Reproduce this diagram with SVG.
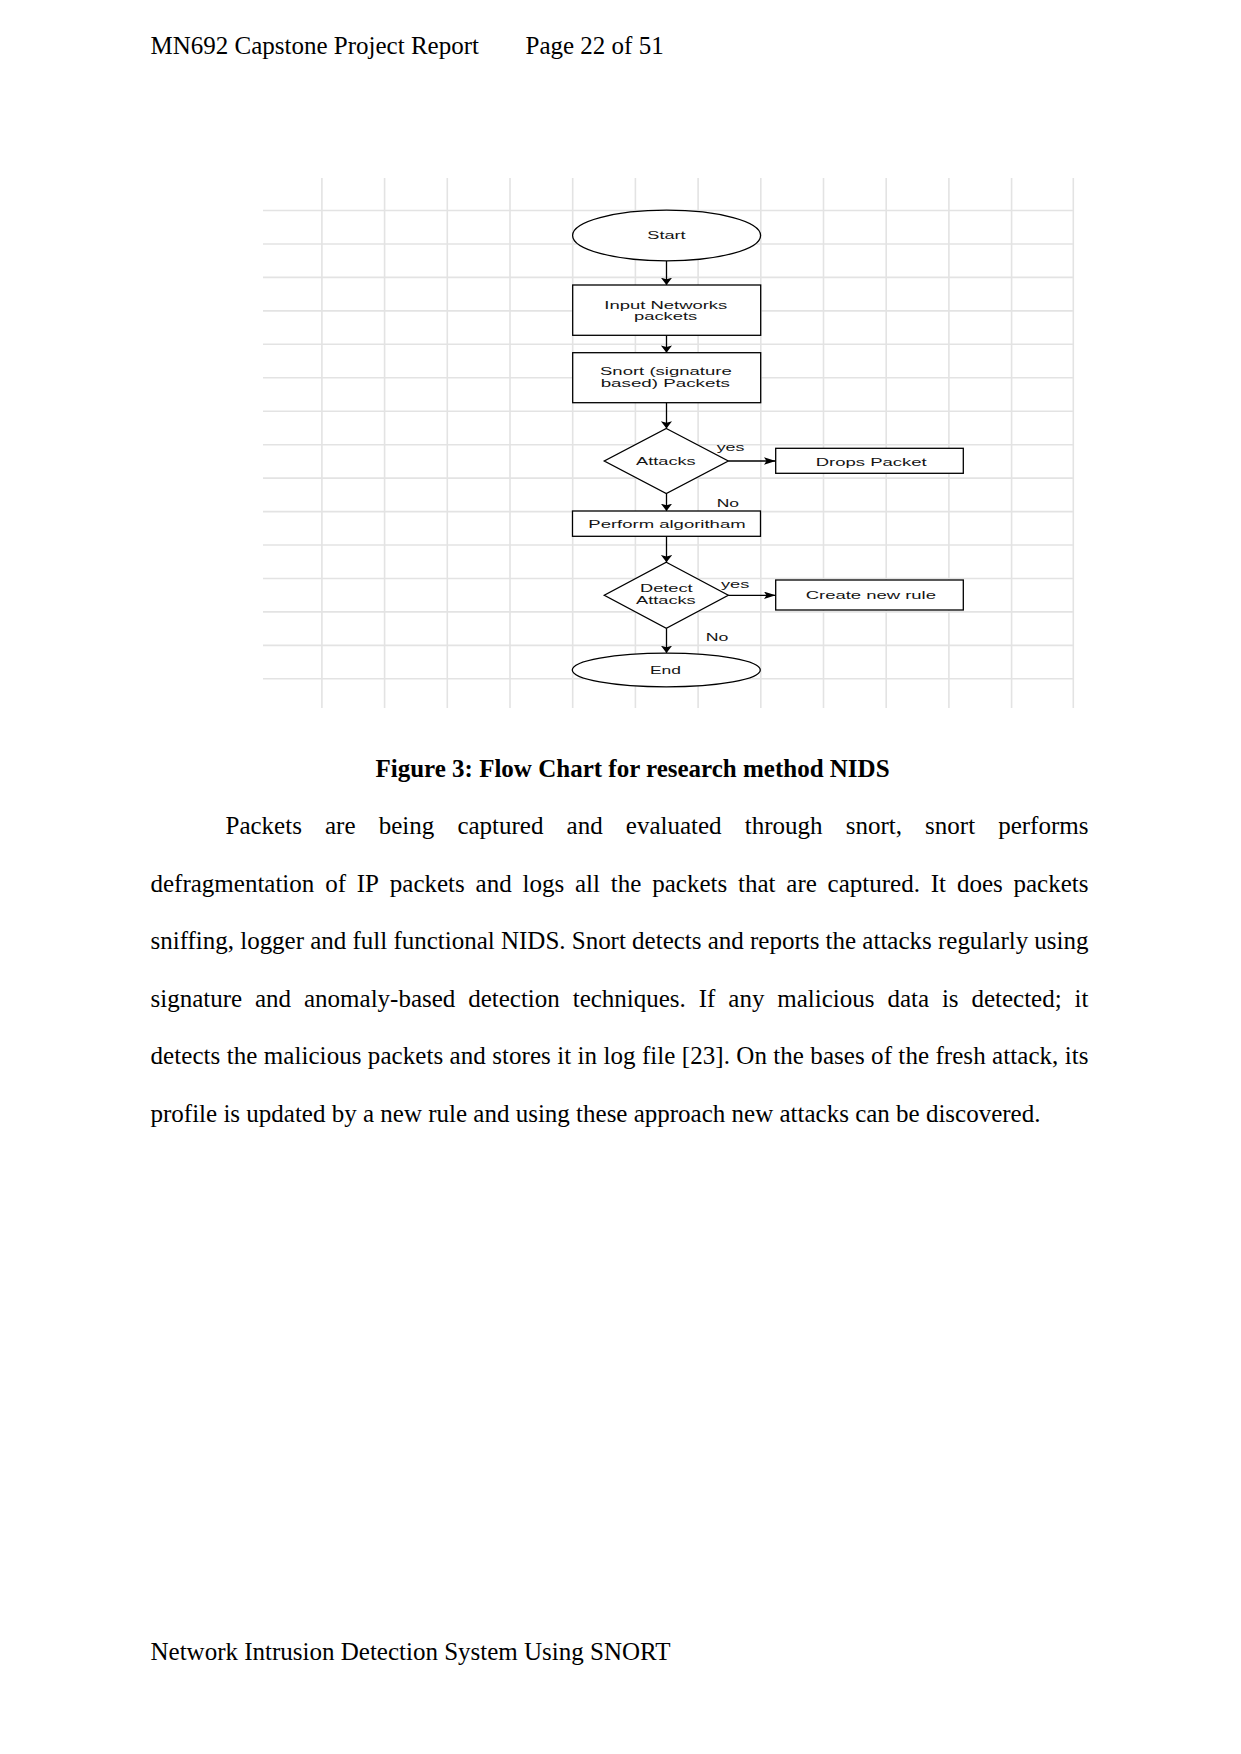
<svg xmlns="http://www.w3.org/2000/svg" width="1241" height="1754" viewBox="0 0 1241 1754">
<style>
.page{font-family:"Liberation Serif","Times New Roman",serif;font-size:25px;fill:#000}
.cap{font-family:"Liberation Serif","Times New Roman",serif;font-size:25px;font-weight:bold;fill:#000}
.grid line{stroke:#e3e3e3;stroke-width:1.6}
.shape{fill:#fff;stroke:#000;stroke-width:1.3}
.lbl{font-family:"Liberation Sans",Arial,sans-serif;font-size:10.5px;fill:#141414}
.conn{stroke:#000;stroke-width:1.3;fill:none}
</style>
<defs>
<marker id="ahV" markerUnits="userSpaceOnUse" markerWidth="9" markerHeight="12" refX="7.3" refY="5.6" orient="auto">
<path d="M0,0 L7.3,5.6 L0,11.2 L1.5,5.6 Z" fill="#000"/>
</marker>
<marker id="ahH" markerUnits="userSpaceOnUse" markerWidth="13" markerHeight="8" refX="11.7" refY="3.7" orient="auto">
<path d="M0,0 L11.7,3.7 L0,7.4 L2.5,3.7 Z" fill="#000"/>
</marker>
</defs>
<rect width="1241" height="1754" fill="#fff"/>

<!-- header -->
<text class="page" x="150.5" y="54">MN692 Capstone Project Report</text>
<text class="page" x="525.5" y="54">Page 22 of 51</text>

<!-- grid background -->
<g class="grid">
<line x1="263" y1="210.5" x2="1074" y2="210.5"/>
<line x1="263" y1="244" x2="1074" y2="244"/>
<line x1="263" y1="277.4" x2="1074" y2="277.4"/>
<line x1="263" y1="310.9" x2="1074" y2="310.9"/>
<line x1="263" y1="344.3" x2="1074" y2="344.3"/>
<line x1="263" y1="377.8" x2="1074" y2="377.8"/>
<line x1="263" y1="411.2" x2="1074" y2="411.2"/>
<line x1="263" y1="444.7" x2="1074" y2="444.7"/>
<line x1="263" y1="478.1" x2="1074" y2="478.1"/>
<line x1="263" y1="511.6" x2="1074" y2="511.6"/>
<line x1="263" y1="545" x2="1074" y2="545"/>
<line x1="263" y1="578.5" x2="1074" y2="578.5"/>
<line x1="263" y1="611.9" x2="1074" y2="611.9"/>
<line x1="263" y1="645.4" x2="1074" y2="645.4"/>
<line x1="263" y1="678.8" x2="1074" y2="678.8"/>
<line x1="321.9" y1="178" x2="321.9" y2="708"/>
<line x1="384.6" y1="178" x2="384.6" y2="708"/>
<line x1="447.3" y1="178" x2="447.3" y2="708"/>
<line x1="510" y1="178" x2="510" y2="708"/>
<line x1="572.7" y1="178" x2="572.7" y2="708"/>
<line x1="635.4" y1="178" x2="635.4" y2="708"/>
<line x1="698.1" y1="178" x2="698.1" y2="708"/>
<line x1="760.8" y1="178" x2="760.8" y2="708"/>
<line x1="823.5" y1="178" x2="823.5" y2="708"/>
<line x1="886.2" y1="178" x2="886.2" y2="708"/>
<line x1="948.9" y1="178" x2="948.9" y2="708"/>
<line x1="1011.6" y1="178" x2="1011.6" y2="708"/>
<line x1="1073.3" y1="178" x2="1073.3" y2="708"/>
</g>

<!-- connectors -->
<g id="connectors">
<line class="conn" x1="666.5" y1="261" x2="666.5" y2="285" marker-end="url(#ahV)"/>
<line class="conn" x1="666.5" y1="335.3" x2="666.5" y2="352.7" marker-end="url(#ahV)"/>
<line class="conn" x1="666.5" y1="402.7" x2="666.5" y2="428.5" marker-end="url(#ahV)"/>
<line class="conn" x1="728.3" y1="461" x2="775.7" y2="461" marker-end="url(#ahH)"/>
<line class="conn" x1="666.5" y1="493.5" x2="666.5" y2="511" marker-end="url(#ahV)"/>
<line class="conn" x1="666.5" y1="536.3" x2="666.5" y2="562.3" marker-end="url(#ahV)"/>
<line class="conn" x1="728.3" y1="595.3" x2="775.7" y2="595.3" marker-end="url(#ahH)"/>
<line class="conn" x1="666.5" y1="628.3" x2="666.5" y2="653" marker-end="url(#ahV)"/>
<text class="lbl" x="716.7" y="451" textLength="27.7" lengthAdjust="spacingAndGlyphs">yes</text>
<text class="lbl" x="716.7" y="506.7" textLength="22.3" lengthAdjust="spacingAndGlyphs">No</text>
<text class="lbl" x="721" y="587.7" textLength="28.3" lengthAdjust="spacingAndGlyphs">yes</text>
<text class="lbl" x="705.7" y="640.7" textLength="22.6" lengthAdjust="spacingAndGlyphs">No</text>
</g>

<!-- nodes -->
<g id="node-start">
<ellipse class="shape" cx="666.6" cy="235.5" rx="94" ry="25.3"/>
<text class="lbl" x="647.3" y="239.3" textLength="38.4" lengthAdjust="spacingAndGlyphs">Start</text>
</g>
<g id="node-input">
<rect class="shape" x="572.7" y="285" width="188" height="50.3"/>
<text class="lbl" x="604.3" y="308.5" textLength="123" lengthAdjust="spacingAndGlyphs">Input Networks</text>
<text class="lbl" x="634" y="320.3" textLength="63.3" lengthAdjust="spacingAndGlyphs">packets</text>
</g>
<g id="node-snort">
<rect class="shape" x="572.7" y="352.7" width="188" height="50"/>
<text class="lbl" x="600" y="375.2" textLength="131.7" lengthAdjust="spacingAndGlyphs">Snort (signature</text>
<text class="lbl" x="600.7" y="387" textLength="129.3" lengthAdjust="spacingAndGlyphs">based) Packets</text>
</g>
<g id="node-attacks">
<polygon class="shape" points="666.3,428.5 728.3,461 666.3,493.5 604.3,461"/>
<text class="lbl" x="636" y="465" textLength="59.7" lengthAdjust="spacingAndGlyphs">Attacks</text>
</g>
<g id="node-drops">
<rect class="shape" x="775.7" y="448.3" width="187.6" height="25"/>
<text class="lbl" x="815.7" y="465.5" textLength="111" lengthAdjust="spacingAndGlyphs">Drops Packet</text>
</g>
<g id="node-perform">
<rect class="shape" x="572.5" y="511" width="188" height="25.3"/>
<text class="lbl" x="588.3" y="528" textLength="157.3" lengthAdjust="spacingAndGlyphs">Perform algoritham</text>
</g>
<g id="node-detect">
<polygon class="shape" points="666.3,562.3 728.3,595.3 666.3,628.3 604.3,595.3"/>
<text class="lbl" x="640" y="592.4" textLength="52.7" lengthAdjust="spacingAndGlyphs">Detect</text>
<text class="lbl" x="636" y="604.3" textLength="59.7" lengthAdjust="spacingAndGlyphs">Attacks</text>
</g>
<g id="node-create">
<rect class="shape" x="775.7" y="580" width="187.6" height="30"/>
<text class="lbl" x="805.7" y="599" textLength="130.3" lengthAdjust="spacingAndGlyphs">Create new rule</text>
</g>
<g id="node-end">
<ellipse class="shape" cx="666.3" cy="670" rx="94" ry="16.8"/>
<text class="lbl" x="650" y="673.8" textLength="31" lengthAdjust="spacingAndGlyphs">End</text>
</g>

<!-- caption -->
<text class="cap" x="632.5" y="777" text-anchor="middle">Figure 3: Flow Chart for research method NIDS</text>

<!-- body -->
<text class="page" y="834.3"><tspan x="225.5">Packets</tspan><tspan x="325">are</tspan><tspan x="378.7">being</tspan><tspan x="457.4">captured</tspan><tspan x="566.6">and</tspan><tspan x="625.8">evaluated</tspan><tspan x="744.8">through</tspan><tspan x="845.7">snort,</tspan><tspan x="925.1">snort</tspan><tspan x="998.2">performs</tspan></text>
<text class="page" y="891.8"><tspan x="150.5">defragmentation</tspan><tspan x="325.2">of</tspan><tspan x="356.8">IP</tspan><tspan x="389.8">packets</tspan><tspan x="475.6">and</tspan><tspan x="522.5">logs</tspan><tspan x="575">all</tspan><tspan x="610.8">the</tspan><tspan x="652.2">packets</tspan><tspan x="738">that</tspan><tspan x="786.3">are</tspan><tspan x="827.6">captured.</tspan><tspan x="930.8">It</tspan><tspan x="956.9">does</tspan><tspan x="1013.5">packets</tspan></text>
<text class="page" x="150.5" y="949.3" textLength="938" lengthAdjust="spacing">sniffing, logger and full functional NIDS. Snort detects and reports the attacks regularly using</text>
<text class="page" y="1006.8"><tspan x="150.5">signature</tspan><tspan x="255">and</tspan><tspan x="304">anomaly-based</tspan><tspan x="468.2">detection</tspan><tspan x="572.7">techniques.</tspan><tspan x="698.8">If</tspan><tspan x="728.3">any</tspan><tspan x="777.3">malicious</tspan><tspan x="887.4">data</tspan><tspan x="941.9">is</tspan><tspan x="971.4">detected;</tspan><tspan x="1074.6">it</tspan></text>
<text class="page" x="150.5" y="1064.3" textLength="938" lengthAdjust="spacing">detects the malicious packets and stores it in log file [23]. On the bases of the fresh attack, its</text>
<text class="page" x="150.5" y="1121.8">profile is updated by a new rule and using these approach new attacks can be discovered.</text>

<!-- footer -->
<text class="page" x="150.5" y="1660">Network Intrusion Detection System Using SNORT</text>
</svg>
